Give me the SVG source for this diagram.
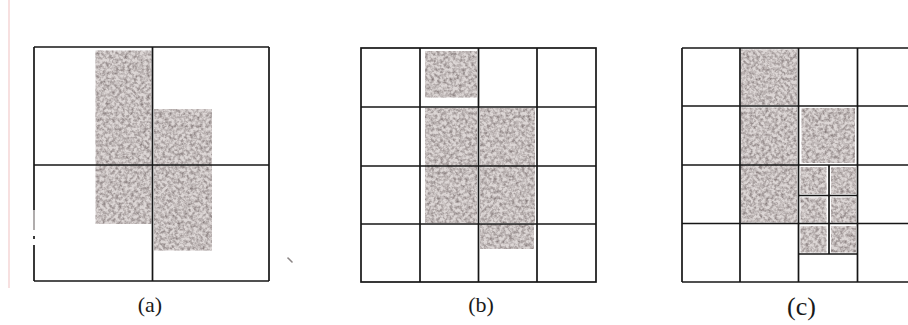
<svg xmlns="http://www.w3.org/2000/svg" width="908" height="325" viewBox="0 0 908 325">
  <defs>
    <!-- speckled halftone used for the shaded blocks -->
    <filter id="grain" x="0" y="0" width="1" height="1" color-interpolation-filters="sRGB">
      <feTurbulence type="fractalNoise" baseFrequency="0.32" numOctaves="3" seed="7" result="noise"/>
      <feColorMatrix in="noise" type="matrix" values="0 0 0 0 0.52  0 0 0 0 0.48  0 0 0 0 0.48  1.9 0 0 0 -0.68" result="speck"/>
      <feComposite in="speck" in2="SourceGraphic" operator="in" result="clipped"/>
      <feMerge>
        <feMergeNode in="SourceGraphic"/>
        <feMergeNode in="clipped"/>
      </feMerge>
    </filter>
  </defs>
  <style>
    .frame { fill: none; stroke: #161616; stroke-width: 1.7; }
    .grid { stroke: #161616; stroke-width: 1.7; fill: none; }
    .tone { fill: #dcd6d5; filter: url(#grain); }
    .label { fill: #1a1a1a; text-anchor: middle; }
  </style>

  <rect width="908" height="325" fill="#ffffff"/>
  <!-- margin rule at the left edge -->
  <line x1="9" y1="0" x2="9" y2="288" stroke="#f2cccc" stroke-width="1.2"/>
  <!-- stray mark -->
  <line x1="288" y1="258" x2="292" y2="262" stroke="#8a8484" stroke-width="1.6" stroke-linecap="round"/>

  <!-- (a) 2x2 partition -->
  <g id="panel-a">
    <rect class="tone" x="95.5" y="50.5" width="56" height="173.5"/>
    <rect class="tone" x="154" y="109" width="58" height="141.5"/>
    <line class="grid" x1="34" y1="47" x2="269" y2="47"/>
    <line class="grid" x1="269" y1="47" x2="269" y2="281"/>
    <line class="grid" x1="34" y1="281" x2="269" y2="281"/>
    <line class="grid" x1="34" y1="47" x2="34" y2="210"/>
    <line x1="34" y1="210" x2="34" y2="230" stroke="#a8a4a4" stroke-width="1.8"/>
    <line class="grid" x1="34" y1="236" x2="34" y2="239"/>
    <line class="grid" x1="34" y1="245" x2="34" y2="281"/>
    <line class="grid" x1="152.5" y1="47" x2="152.5" y2="281"/>
    <line class="grid" x1="34" y1="165" x2="269" y2="165"/>
  </g>

  <!-- (b) 4x4 uniform grid -->
  <g id="panel-b">
    <rect class="tone" x="425" y="51" width="52" height="46.5"/>
    <rect class="tone" x="425" y="108" width="52" height="115"/>
    <rect class="tone" x="480" y="108" width="55" height="115"/>
    <rect class="tone" x="480" y="224" width="54" height="25"/>
    <rect class="frame" x="361" y="48" width="235" height="234"/>
    <line class="grid" x1="420" y1="48" x2="420" y2="282"/>
    <line class="grid" x1="478.5" y1="48" x2="478.5" y2="282"/>
    <line class="grid" x1="537" y1="48" x2="537" y2="282"/>
    <line class="grid" x1="361" y1="107" x2="596" y2="107"/>
    <line class="grid" x1="361" y1="166" x2="596" y2="166"/>
    <line class="grid" x1="361" y1="224" x2="596" y2="224"/>
  </g>

  <!-- (c) 4x4 grid with refined cells -->
  <g id="panel-c">
    <rect class="tone" x="741" y="49.5" width="56" height="55.5"/>
    <rect class="tone" x="741" y="107.5" width="56" height="115"/>
    <rect class="tone" x="801.5" y="108" width="53.5" height="55"/>
    <rect class="tone" x="800.5" y="167" width="26" height="27"/>
    <rect class="tone" x="831" y="167" width="25" height="27"/>
    <rect class="tone" x="800.5" y="197.5" width="26" height="25"/>
    <rect class="tone" x="831" y="197.5" width="25" height="25"/>
    <rect class="tone" x="800.5" y="226" width="26" height="26.5"/>
    <rect class="tone" x="831" y="226" width="25" height="26.5"/>
    <line class="grid" x1="682" y1="48" x2="908" y2="48"/>
    <line class="grid" x1="682" y1="282" x2="908" y2="282"/>
    <line class="grid" x1="682" y1="48" x2="682" y2="282"/>
    <line class="grid" x1="740" y1="48" x2="740" y2="282"/>
    <line class="grid" x1="798.5" y1="48" x2="798.5" y2="282"/>
    <line class="grid" x1="857.5" y1="48" x2="857.5" y2="282"/>
    <line class="grid" x1="682" y1="106" x2="908" y2="106"/>
    <line class="grid" x1="682" y1="165" x2="908" y2="165"/>
    <line class="grid" x1="682" y1="223.5" x2="908" y2="223.5"/>
    <line class="grid" x1="829" y1="165" x2="829" y2="254"/>
    <line class="grid" x1="798.5" y1="195.5" x2="857.5" y2="195.5"/>
    <line class="grid" x1="798.5" y1="254" x2="857.5" y2="254"/>
  </g>

  <g id="captions" font-family="'Liberation Serif', 'DejaVu Serif', serif">
    <text class="label" x="150" y="312" font-size="22">(a)</text>
    <text class="label" x="481" y="312" font-size="22">(b)</text>
    <text class="label" x="801.5" y="315" font-size="26">(c)</text>
  </g>
</svg>
